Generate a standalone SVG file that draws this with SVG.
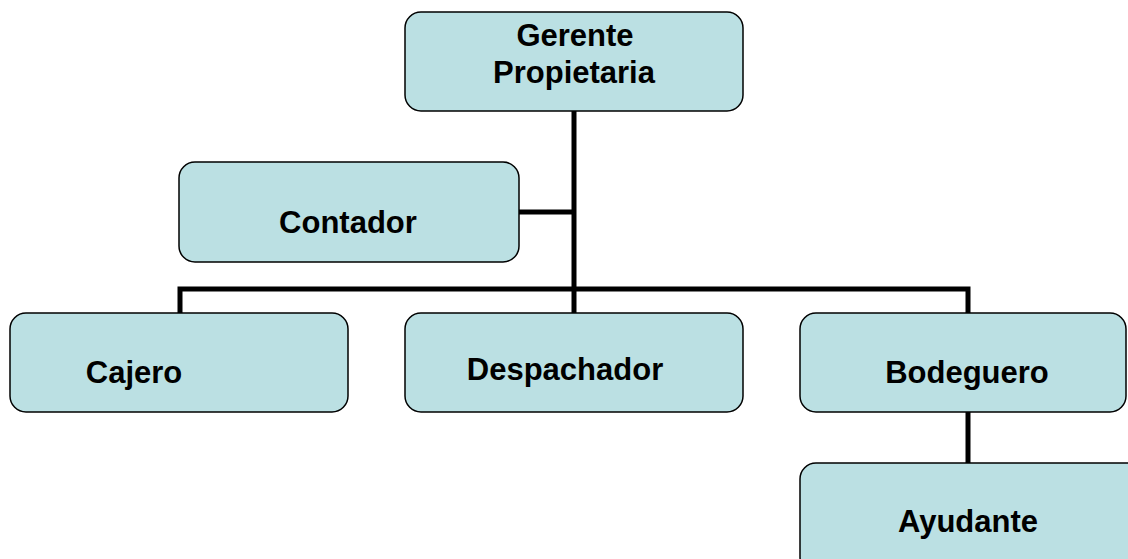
<svg xmlns="http://www.w3.org/2000/svg" width="1128" height="559" viewBox="0 0 1128 559">
<style>
.box{fill:#BBE0E3;stroke:#000;stroke-width:1.5}
.lbl{font-family:"Liberation Sans",Arial,sans-serif;font-weight:bold;font-size:31px;fill:#000;text-anchor:middle}
.con{stroke:#000;stroke-width:5;fill:none}
</style>
<rect width="1128" height="559" fill="#fff"/>
<g id="connectors">
<line class="con" x1="574" y1="111" x2="574" y2="313"/>
<line class="con" x1="519" y1="212" x2="574" y2="212"/>
<polyline class="con" points="180,313 180,289 968,289 968,313"/>
<line class="con" x1="968" y1="412" x2="968" y2="463"/>
</g>
<g id="gerente">
<rect class="box" x="405" y="12" width="338" height="99" rx="16"/>
<text class="lbl" x="575" y="46">Gerente</text>
<text class="lbl" x="574" y="83">Propietaria</text>
</g>
<g id="contador">
<rect class="box" x="179" y="162" width="340" height="100" rx="16"/>
<text class="lbl" x="348" y="233">Contador</text>
</g>
<g id="cajero">
<rect class="box" x="10" y="313" width="338" height="99" rx="16"/>
<text class="lbl" x="134" y="383">Cajero</text>
</g>
<g id="despachador">
<rect class="box" x="405" y="313" width="338" height="99" rx="16"/>
<text class="lbl" x="565" y="380">Despachador</text>
</g>
<g id="bodeguero">
<rect class="box" x="800" y="313" width="326" height="99" rx="16"/>
<text class="lbl" x="967" y="383">Bodeguero</text>
</g>
<g id="ayudante">
<rect class="box" x="800" y="463" width="345" height="110" rx="16"/>
<text class="lbl" x="968" y="532">Ayudante</text>
</g>
</svg>
